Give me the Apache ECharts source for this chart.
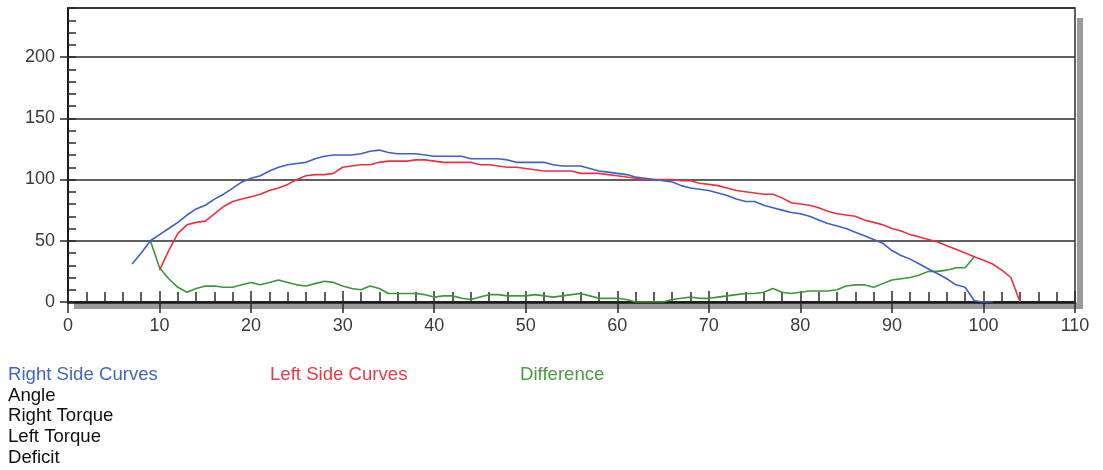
<!DOCTYPE html>
<html>
<head>
<meta charset="utf-8">
<script src="https://cdn.jsdelivr.net/npm/echarts@6/dist/echarts.min.js"></script>
<style>
  html, body { margin: 0; padding: 0; background: #ffffff; }
  #chart { width: 1103px; height: 470px; }
</style>
</head>
<body>
<div id="chart"></div>
<script>
// Joint angle (degrees), one sample per degree
const angles = [
  7, 8, 9, 10, 11, 12, 13, 14, 15, 16, 17, 18, 19, 20, 21, 22, 23, 24, 25, 26,
  27, 28, 29, 30, 31, 32, 33, 34, 35, 36, 37, 38, 39, 40, 41, 42, 43, 44, 45, 46,
  47, 48, 49, 50, 51, 52, 53, 54, 55, 56, 57, 58, 59, 60, 61, 62, 63, 64, 65, 66,
  67, 68, 69, 70, 71, 72, 73, 74, 75, 76, 77, 78, 79, 80, 81, 82, 83, 84, 85, 86,
  87, 88, 89, 90, 91, 92, 93, 94, 95, 96, 97, 98, 99, 100, 101, 102, 103, 104
];

// Right side torque (blue), null where no sample
const rightTorque = [
  31, 40, 50, 55, 60, 65, 71, 76, 79, 84, 88, 93, 98, 101, 103, 107, 110, 112, 113, 114,
  117, 119, 120, 120, 120, 121, 123, 124, 122, 121, 121, 121, 120, 119, 119, 119, 119, 117, 117, 117,
  117, 116, 114, 114, 114, 114, 112, 111, 111, 111, 109, 107, 106, 105, 104, 102, 101, 100, 99, 98,
  95, 93, 92, 91, 89, 87, 84, 82, 82, 79, 77, 75, 73, 72, 70, 67, 64, 62, 60, 57,
  54, 51, 48, 42, 38, 35, 31, 27, 23, 19, 14, 12, 1, 0, 0, null, null, null
];

// Left side torque (red)
const leftTorque = [
  null, null, null, 26, 42, 56, 63, 65, 66, 72, 78, 82, 84, 86, 88, 91, 93, 96, 100, 103,
  104, 104, 105, 110, 111, 112, 112, 114, 115, 115, 115, 116, 116, 115, 114, 114, 114, 114, 112, 112,
  111, 110, 110, 109, 108, 107, 107, 107, 107, 105, 105, 105, 104, 103, 102, 101, 100, 100, 100, 100,
  99, 99, 97, 96, 95, 93, 91, 90, 89, 88, 88, 85, 81, 80, 79, 77, 74, 72, 71, 70,
  67, 65, 63, 60, 58, 55, 53, 51, 49, 46, 43, 40, 37, 34, 31, 26, 20, 0
];

// Side-to-side difference (green)
const deficit = [
  null, null, 50, 28, 19, 12, 8, 11, 13, 13, 12, 12, 14, 16, 14, 16, 18, 16, 14, 13,
  15, 17, 16, 13, 11, 10, 13, 11, 7, 7, 7, 7, 6, 4, 5, 5, 3, 2, 4, 6,
  6, 5, 5, 5, 6, 5, 4, 5, 6, 7, 5, 3, 3, 3, 2, 0, 0, 0, 0, 2,
  3, 4, 3, 3, 4, 5, 6, 7, 7, 8, 11, 8, 7, 8, 9, 9, 9, 10, 13, 14,
  14, 12, 15, 18, 19, 20, 22, 25, 25, 26, 28, 28, 37, null, null, null, null, null
];

const legendRow = ['Right Side Curves', 'Left Side Curves', 'Difference'];
const legendRows = ['Angle', 'Right Torque', 'Left Torque', 'Deficit'];

const BLUE = '#3f5fc9';
const RED = '#ec3040';
const GREEN = '#3b963b';

function pairs(values) {
  const out = [];
  values.forEach((v, i) => { if (v !== null) out.push([angles[i], v]); });
  return out;
}

const chart = echarts.init(document.getElementById('chart'), null, { renderer: 'canvas' });

const labelFont = { fontFamily: 'Liberation Sans, Arial, sans-serif', fontSize: 18, color: '#3a3a3a' };
const textFont = 'Liberation Sans, Arial, sans-serif';
const legendFont = '18.6px ' + textFont;

const option = {
  animation: false,
  backgroundColor: '#ffffff',
  grid: {
    left: 68, right: 28, top: 8, bottom: 168,
    show: true, borderColor: '#2e2e2e', borderWidth: 1.5, backgroundColor: 'transparent'
  },
  xAxis: [
    {
      type: 'value', min: 0, max: 110, interval: 10, position: 'bottom',
      axisLine: { show: true, onZero: false, lineStyle: { color: '#1a1a1a', width: 2.5 } },
      axisTick: { show: true, inside: true, length: 11, lineStyle: { color: '#2a2a2a', width: 1.5 } },
      minorTick: { show: true, splitNumber: 5, length: 10, lineStyle: { color: '#2a2a2a', width: 1.5 } },
      axisLabel: { show: false },
      splitLine: { show: false }
    },
    {
      type: 'value', min: 0, max: 110, interval: 10, position: 'bottom',
      axisLine: { show: false, onZero: false },
      axisTick: { show: true, inside: false, length: 11, lineStyle: { color: '#2a2a2a', width: 1.5 } },
      axisLabel: Object.assign({ show: true, margin: 15 }, labelFont),
      splitLine: { show: false }
    }
  ],
  yAxis: [
    {
      type: 'value', min: 0, max: 240, interval: 10,
      axisLine: { show: true, onZero: false, lineStyle: { color: '#1a1a1a', width: 2 } },
      axisTick: { show: true, inside: true, length: 8, lineStyle: { color: '#2a2a2a', width: 1.5 } },
      axisLabel: { show: false },
      splitLine: { show: false }
    },
    {
      type: 'value', min: 0, max: 240, interval: 50, position: 'left',
      axisLine: { show: false, onZero: false },
      axisTick: { show: true, inside: false, length: 8, lineStyle: { color: '#2a2a2a', width: 1.5 } },
      axisLabel: Object.assign({ show: true, margin: 13, showMaxLabel: false }, labelFont),
      splitLine: { show: true, lineStyle: { color: '#2a2a2a', width: 1.5 } }
    }
  ],
  graphic: [
    // drop shadow along the bottom and right edges of the plot frame
    { type: 'rect', shape: { x: 74, y: 303, width: 1009, height: 6 }, style: { fill: '#9a9a9e' }, z: 0 },
    { type: 'rect', shape: { x: 1077, y: 18, width: 6, height: 291 }, style: { fill: '#9a9a9e' }, z: 0 },
    { type: 'text', left: 8, top: 365, style: { text: legendRow[0], fill: '#4466c0', font: legendFont } },
    { type: 'text', left: 270, top: 365, style: { text: legendRow[1], fill: '#e83a4a', font: legendFont } },
    { type: 'text', left: 520, top: 365, style: { text: legendRow[2], fill: '#4a9e3c', font: legendFont } },
    { type: 'text', left: 8, top: 386, style: { text: legendRows[0], fill: '#111111', font: legendFont } },
    { type: 'text', left: 8, top: 406, style: { text: legendRows[1], fill: '#111111', font: legendFont } },
    { type: 'text', left: 8, top: 427, style: { text: legendRows[2], fill: '#111111', font: legendFont } },
    { type: 'text', left: 8, top: 448, style: { text: legendRows[3], fill: '#111111', font: legendFont } }
  ],
  series: [
    {
      name: 'Right Torque', type: 'line', xAxisIndex: 0, yAxisIndex: 0,
      data: pairs(rightTorque), showSymbol: false, symbol: 'none',
      lineStyle: { color: BLUE, width: 1.6 }, z: 5
    },
    {
      name: 'Left Torque', type: 'line', xAxisIndex: 0, yAxisIndex: 0,
      data: pairs(leftTorque), showSymbol: false, symbol: 'none',
      lineStyle: { color: RED, width: 1.6 }, z: 4
    },
    {
      name: 'Deficit', type: 'line', xAxisIndex: 0, yAxisIndex: 0,
      data: pairs(deficit), showSymbol: false, symbol: 'none',
      lineStyle: { color: GREEN, width: 1.6 }, z: 3
    }
  ]
};

chart.setOption(option);
</script>
</body>
</html>
